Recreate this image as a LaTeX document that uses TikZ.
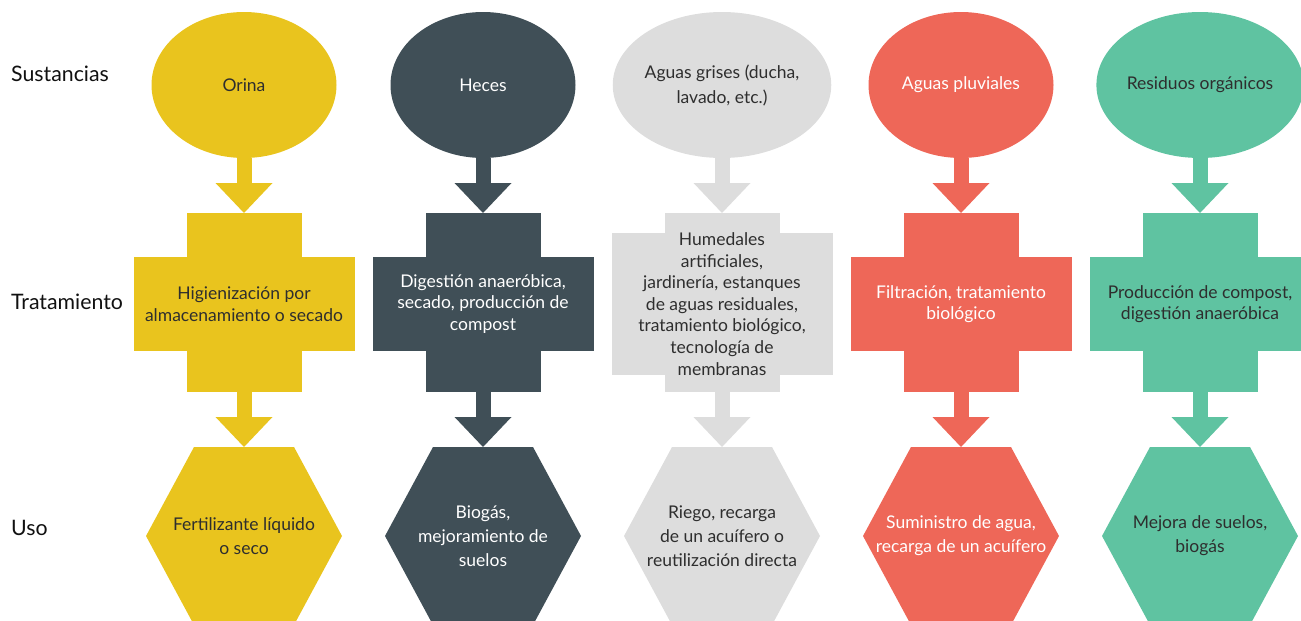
\documentclass[tikz,border=0pt]{standalone}
\usepackage{fontspec}
\setmainfont{Lato}
\usetikzlibrary{arrows.meta,shapes.geometric,calc}

\definecolor{orina}{HTML}{E9C41E}
\definecolor{heces}{HTML}{404F57}
\definecolor{grises}{HTML}{DDDDDD}
\definecolor{pluvial}{HTML}{EE6758}
\definecolor{organico}{HTML}{5FC3A1}
\definecolor{tinta}{HTML}{2E2E2E}
\definecolor{negro}{HTML}{111111}

\begin{document}
\begin{tikzpicture}[x=1pt, y=-1pt,
	font=\fontsize{17.5}{24}\selectfont,
	sust/.style = {ellipse,
		minimum width = 185pt, minimum height = 146pt,
		inner sep = 0pt, outer sep = 0pt, align = center,
		font = \fontsize{17.5}{25}\selectfont},
	tall/.style = {minimum width = 115pt, minimum height = 179pt,
		inner sep = 0pt, outer sep = 0pt},
	bar/.style = {minimum width = 221pt, minimum height = 94pt,
		inner sep = 0pt, outer sep = 0pt, align = center,
		font = \fontsize{17.5}{21.6}\selectfont},
	usotxt/.style = {align = center},
	hexpath/.style = {insert path = {++(-98,0) -- ++(48,-89) -- ++(100,0)
		-- ++(48,89) -- ++(-48,89) -- ++(-100,0) -- cycle}},
	flecha/.style = {line width = 15pt,
		-{Triangle[width = 57pt, length = 30pt, line width = 0pt]}},
	fila/.style = {anchor = west, inner sep = 0pt, text = negro,
		font = \fontsize{21.3}{24}\selectfont}]

	\useasboundingbox (0,0) rectangle (1301,621);

	% filas
	\node[fila] (lsus) at (11,74) {Sustancias};
	\node[fila] (ltra) at (11,302) {Tratamiento};
	\node[fila] (luso) at (11,528) {Uso};

	% orina
	\node[sust, fill = orina, text = tinta] (s1) at (244,85) {Orina};
	\node[tall, fill = orina] (v1) at (244,302.5) {};
	\node[bar, fill = orina, text = tinta] (t1) at (244,304)
		{Higienización por\\almacenamiento o secado};
	\coordinate (h1) at (244,536);
	\fill[orina] (h1) [hexpath];
	\node[usotxt, text = tinta] (u1) at (h1)
		{Fertilizante líquido\\o seco};
	\draw[flecha, orina] (s1.south) -- (v1.north);
	\draw[flecha, orina] (v1.south) -- ($(h1)+(0,-89)$);

	% heces
	\node[sust, fill = heces, text = white] (s2) at (483,85) {Heces};
	\node[tall, fill = heces] (v2) at (483,302.5) {};
	\node[bar, fill = heces, text = white] (t2) at (483,304)
		{Digestión anaeróbica,\\secado, producción de\\compost};
	\coordinate (h2) at (483,536);
	\fill[heces] (h2) [hexpath];
	\node[usotxt, text = white] (u2) at (h2)
		{Biogás,\\mejoramiento de\\suelos};
	\draw[flecha, heces] (s2.south) -- (v2.north);
	\draw[flecha, heces] (v2.south) -- ($(h2)+(0,-89)$);

	% aguas grises
	\node[sust, fill = grises, text = tinta] (s3) at (722,85)
		{Aguas grises (ducha,\\lavado, etc.)};
	\node[tall, fill = grises] (v3) at (722,302.5) {};
	\node[bar, fill = grises, text = tinta] (t3) at (722,304)
		{Humedales\\artificiales,\\jardinería, estanques\\de aguas residuales,\\tratamiento biológico,\\tecnología de\\membranas};
	\coordinate (h3) at (722,536);
	\fill[grises] (h3) [hexpath];
	\node[usotxt, text = tinta] (u3) at (h3)
		{Riego, recarga\\de un acuífero o\\reutilización directa};
	\draw[flecha, grises] (s3.south) -- (v3.north);
	\draw[flecha, grises] (v3.south) -- ($(h3)+(0,-89)$);

	% aguas pluviales
	\node[sust, fill = pluvial, text = white] (s4) at (961,85) {Aguas pluviales};
	\node[tall, fill = pluvial] (v4) at (961,302.5) {};
	\node[bar, fill = pluvial, text = white] (t4) at (961,304)
		{Filtración, tratamiento\\biológico};
	\coordinate (h4) at (961,536);
	\fill[pluvial] (h4) [hexpath];
	\node[usotxt, text = white] (u4) at (h4)
		{Suministro de agua,\\recarga de un acuífero};
	\draw[flecha, pluvial] (s4.south) -- (v4.north);
	\draw[flecha, pluvial] (v4.south) -- ($(h4)+(0,-89)$);

	% residuos organicos
	\node[sust, fill = organico, text = tinta] (s5) at (1200,85) {Residuos orgánicos};
	\node[tall, fill = organico] (v5) at (1200,302.5) {};
	\node[bar, fill = organico, text = tinta] (t5) at (1200,304)
		{Producción de compost,\\digestión anaeróbica};
	\coordinate (h5) at (1200,536);
	\fill[organico] (h5) [hexpath];
	\node[usotxt, text = tinta] (u5) at (h5)
		{Mejora de suelos,\\biogás};
	\draw[flecha, organico] (s5.south) -- (v5.north);
	\draw[flecha, organico] (v5.south) -- ($(h5)+(0,-89)$);

\end{tikzpicture}
\end{document}
